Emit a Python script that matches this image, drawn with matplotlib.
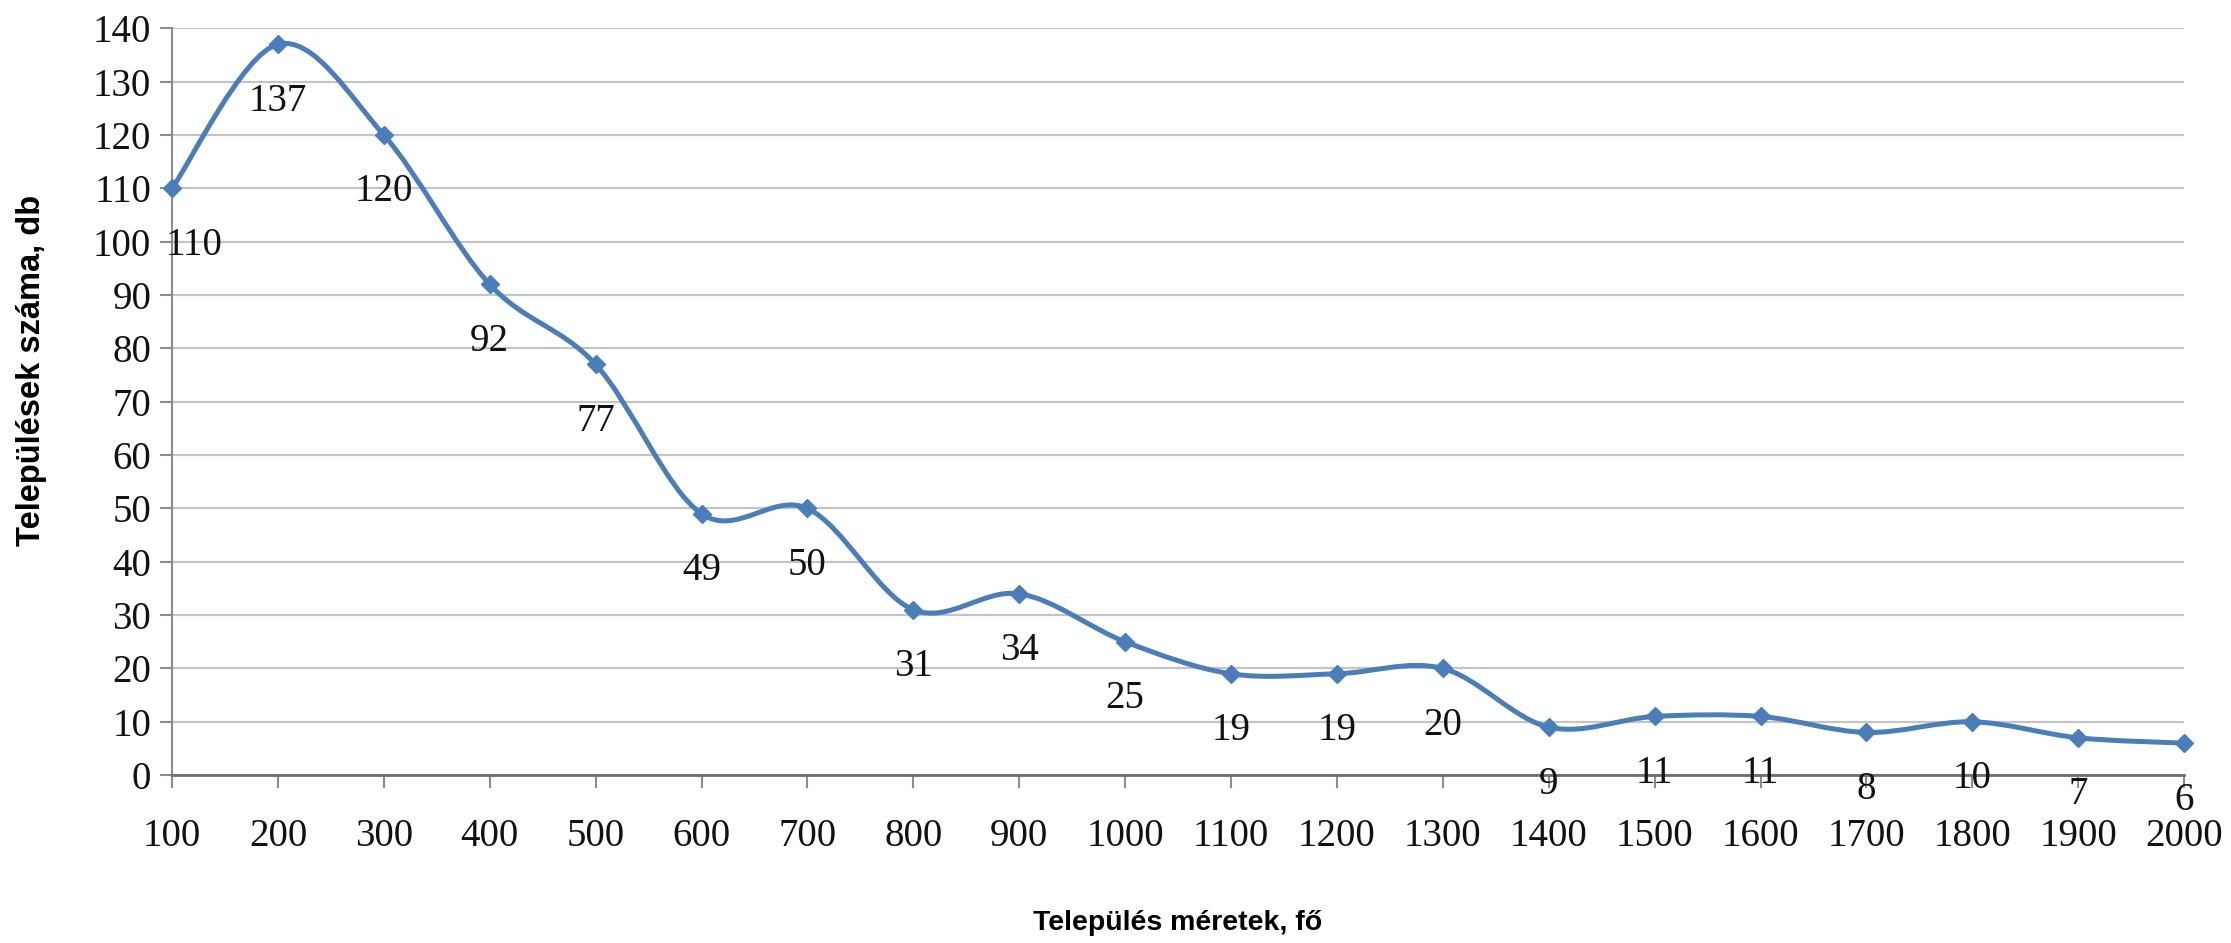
import numpy as np
import matplotlib
matplotlib.use("Agg")
import matplotlib.pyplot as plt
from matplotlib.path import Path
from matplotlib.patches import PathPatch

sizes = ["100", "200", "300", "400", "500", "600", "700", "800", "900", "1000",
         "1100", "1200", "1300", "1400", "1500", "1600", "1700", "1800", "1900", "2000"]
counts = [110, 137, 120, 92, 77, 49, 50, 31, 34, 25,
          19, 19, 20, 9, 11, 11, 8, 10, 7, 6]
y_ticks = list(range(0, 141, 10))

line_color = "#4a7ebb"
tick_font = "Liberation Serif"

fig = plt.figure(figsize=(22.31, 9.43), dpi=100)
ax = fig.add_axes([0.0771, 0.178, 0.9019, 0.792])

x = np.arange(len(counts))
y = np.array(counts, dtype=float)

# Excel-style smoothed line: cubic Bezier segments with Catmull-Rom tangents
verts = [(x[0], y[0])]
codes = [Path.MOVETO]
n = len(x)
for i in range(n - 1):
    p0 = np.array([x[max(i - 1, 0)], y[max(i - 1, 0)]])
    p1 = np.array([x[i], y[i]])
    p2 = np.array([x[i + 1], y[i + 1]])
    p3 = np.array([x[min(i + 2, n - 1)], y[min(i + 2, n - 1)]])
    c1 = p1 + (p2 - p0) / 6.0
    c2 = p2 - (p3 - p1) / 6.0
    verts += [tuple(c1), tuple(c2), tuple(p2)]
    codes += [Path.CURVE4, Path.CURVE4, Path.CURVE4]
curve = PathPatch(Path(verts, codes), facecolor="none", edgecolor=line_color,
                  lw=3.6, capstyle="round", joinstyle="round", zorder=3,
                  clip_on=False)
ax.add_patch(curve)
ax.plot(x, y, linestyle="none", marker="D", markersize=9, color=line_color,
        zorder=4, clip_on=False)

for i, v in enumerate(counts):
    dx = 16 if i == 0 else 0
    ax.annotate(str(v), (x[i], y[i]), xytext=(dx, -41), textcoords="offset points",
                ha="center", va="center", fontsize=28, family=tick_font,
                color="#111111", zorder=5)

ax.set_xlim(0, n - 1)
ax.set_ylim(0, 140)
ax.set_xticks(x)
ax.set_xticklabels(sizes)
ax.set_yticks(y_ticks)

ax.yaxis.grid(True, color="#c4c4c4", linewidth=1.6)
ax.set_axisbelow(True)
for s in ["top", "right"]:
    ax.spines[s].set_visible(False)
ax.spines["left"].set_color("#8c8c8c")
ax.spines["left"].set_linewidth(1.5)
ax.spines["bottom"].set_color("#6e6e6e")
ax.spines["bottom"].set_linewidth(2)

ax.tick_params(axis="x", direction="out", length=9, width=1.5, color="#8c8c8c",
               pad=22, labelsize=28)
ax.tick_params(axis="y", direction="out", length=9, width=1.5, color="#8c8c8c",
               pad=6, labelsize=28)
for lab in ax.get_xticklabels() + ax.get_yticklabels():
    lab.set_family(tick_font)
    lab.set_color("#111111")

xl = ax.set_xlabel("Település méretek, fő", fontsize=20.5, fontweight="bold",
                   family="Liberation Sans")
yl = ax.set_ylabel("Települések száma, db", fontsize=23.5, fontweight="bold",
                   family="Liberation Sans")
xl.set_va("center")
yl.set_va("center")
ax.xaxis.set_label_coords(0.5, -0.198)
ax.yaxis.set_label_coords(-0.0696, 0.5425)

fig.savefig("out.png", dpi=100, facecolor="white")
